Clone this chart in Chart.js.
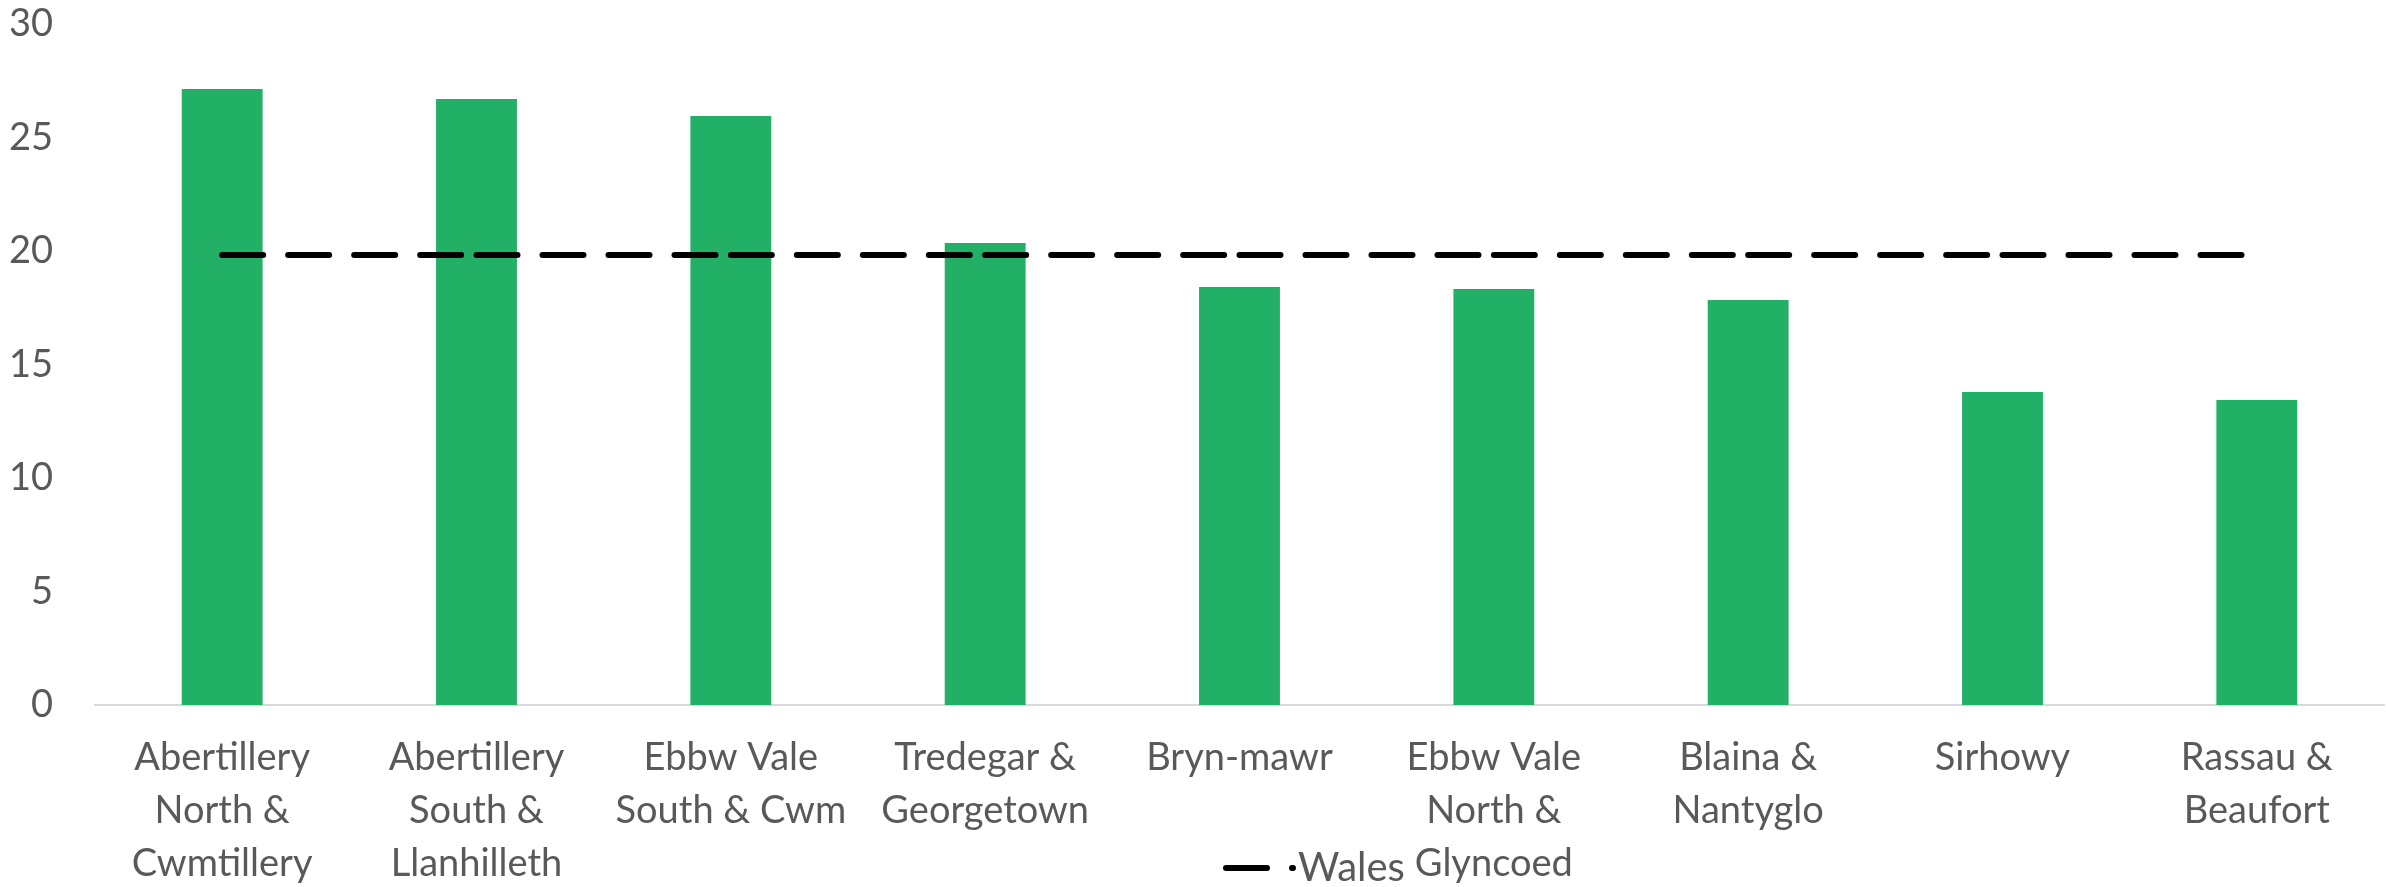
<!DOCTYPE html>
<html>
<head>
<meta charset="utf-8">
<script src="https://cdn.jsdelivr.net/npm/chart.js@4.4.1/dist/chart.umd.min.js"></script>
<style>
  html, body { margin: 0; padding: 0; background: #fff; overflow: hidden; }
  canvas { display: block; }
</style>
</head>
<body>
<canvas id="chart" width="2386" height="887"></canvas>
<script>
// ============================================================
// DATI
// ============================================================
const categories = [
  ["Abertillery", "North &", "Cwmtillery"],
  ["Abertillery", "South &", "Llanhilleth"],
  ["Ebbw Vale", "South & Cwm"],
  ["Tredegar &", "Georgetown"],
  ["Bryn-mawr"],
  ["Ebbw Vale", "North &", "Glyncoed"],
  ["Blaina &", "Nantyglo"],
  ["Sirhowy"],
  ["Rassau &", "Beaufort"]
];
const wardValues = [27.14, 26.7, 25.95, 20.35, 18.41, 18.33, 17.84, 13.79, 13.44];
const walesValues = [19.82, 19.82, 19.82, 19.82, 19.82, 19.82, 19.82, 19.82, 19.82];
const walesLabel = "Wales";
const yMin = 0;
const yMax = 30;
const yStep = 5;

// ============================================================
// STILE
// ============================================================
const FONT = "Lato, 'Open Sans', sans-serif";
const TEXT_COLOR = "#595959";
const GREEN = "#22b066";
const DASH = [41, 25];

// ============================================================
// LEGENDA (solo la linea Wales, sovrapposta come in Excel)
// ============================================================
const walesLegend = {
  id: "walesLegend",
  afterDraw(chart) {
    const ds = chart.data.datasets[1];
    const c = chart.ctx;
    const y = 868;
    c.save();
    c.strokeStyle = ds.borderColor;
    c.lineWidth = ds.borderWidth;
    c.lineCap = "round";
    c.setLineDash(DASH);
    c.beginPath();
    c.moveTo(1226, y);
    c.lineTo(1293, y);
    c.stroke();
    c.setLineDash([]);
    c.fillStyle = TEXT_COLOR;
    c.font = "40px " + FONT;
    c.textBaseline = "middle";
    c.textAlign = "left";
    c.fillText(ds.label, 1298, y);
    c.restore();
  }
};

// ============================================================
// GRAFICO
// ============================================================
const ctx = document.getElementById("chart").getContext("2d");

new Chart(ctx, {
  type: "bar",
  data: {
    labels: categories,
    datasets: [
      {
        label: "Ward",
        data: wardValues,
        backgroundColor: GREEN,
        borderWidth: 0,
        barPercentage: 0.318,
        categoryPercentage: 1,
        order: 1
      },
      {
        type: "line",
        label: walesLabel,
        data: walesValues,
        borderColor: "#000000",
        borderWidth: 6,
        borderDash: DASH,
        borderCapStyle: "round",
        pointRadius: 0,
        fill: false,
        order: 0,
        // ogni segmento riparte col tratteggio, come in Excel
        segment: {
          borderDashOffset: c => c.p0DataIndex * 0.001
        }
      }
    ]
  },
  options: {
    responsive: false,
    animation: false,
    layout: {
      padding: { top: 24, right: 2, bottom: 0, left: 0 }
    },
    plugins: {
      legend: { display: false },
      tooltip: { enabled: false }
    },
    scales: {
      x: {
        grid: { display: false, drawTicks: false },
        border: { display: true, color: "#d9d9d9", width: 2 },
        ticks: {
          color: TEXT_COLOR,
          font: { family: FONT, size: 38, lineHeight: 1.4 },
          padding: 26,
          maxRotation: 0,
          autoSkip: false
        },
        afterFit(scale) {
          scale.height = 182;
        }
      },
      y: {
        min: yMin,
        max: yMax,
        grid: { display: false, drawTicks: false },
        border: { display: false },
        ticks: {
          stepSize: yStep,
          color: TEXT_COLOR,
          font: { family: FONT, size: 38 },
          padding: 42
        },
        afterFit(scale) {
          scale.width = 95;
          scale.paddingTop = 24;
          scale.paddingBottom = 0;
        }
      }
    }
  },
  plugins: [walesLegend]
});
</script>
</body>
</html>
